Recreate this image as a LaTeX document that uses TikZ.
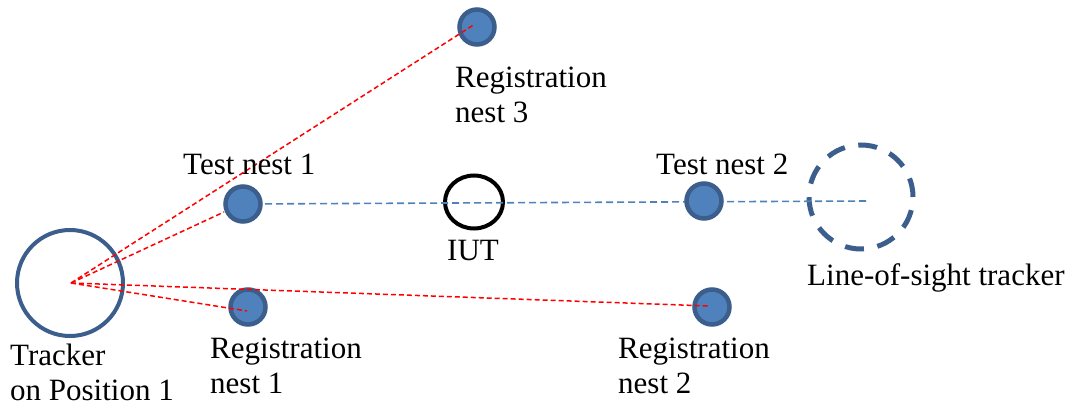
\documentclass[tikz,border=0pt]{standalone}
\usepackage{fontspec}
\setmainfont{Liberation Serif}
\usetikzlibrary{shapes.geometric}
\begin{document}
\begin{tikzpicture}[x=1pt,y=-1pt,
  nest/.style={circle,draw=nestedge,fill=nestfill,line width=4.5pt,minimum size=35pt,inner sep=0pt},
  label/.style={font=\fontsize{31}{35}\selectfont,align=left,anchor=base west,inner sep=0pt},
  sight/.style={red,line width=1.5pt,dash pattern=on 5pt off 3pt},
  axis/.style={nestfill,line width=1.6pt,dash pattern=on 7pt off 4pt}]
\definecolor{nestfill}{HTML}{4F81BD}
\definecolor{nestedge}{HTML}{3B5E8C}
\useasboundingbox (0,0) rectangle (1084,406);

% tracker on position 1
\node[circle,draw=nestedge,line width=4pt,minimum size=106pt,inner sep=0pt] (trk) at (70,283) {};
\coordinate (src) at (71,283);

% line-of-sight tracker (dashed outline)
\node[circle,draw=nestedge,line width=5pt,minimum size=104pt,inner sep=0pt,
      dash pattern=on 19pt off 13.7pt] (los) at (861,197) {};
\coordinate (axisend) at (868,201);

% item under test
\node[ellipse,draw=black,line width=4pt,minimum width=58pt,minimum height=53pt,inner sep=0pt] (iut) at (474,202) {};

% nests
\coordinate (tn1pos) at (243,204);
\draw[axis] (tn1pos) -- (axisend);
\draw[sight] (src) -- ([shift={(-19pt,-8pt)}]tn1pos);
\node[nest] (tn1) at (tn1pos) {};
\node[nest] (tn2) at (704,201) {};
\node[nest] (r1) at (248,307) {};
\node[nest] (r2) at (712,307) {};
\node[nest] (r3) at (477,27) {};

% lines of sight to the registration nests
\draw[sight] (src) -- ([shift={(-1pt,-4pt)}]r1.center);
\draw[sight] (src) -- ([shift={(-3pt,1pt)}]r2.center);
\draw[sight] (src) -- ([shift={(-2pt,3pt)}]r3.center);

% labels (multi-line labels are placed by the baseline of their last line)
\node[label] (ltn1) at (183,175) {Test nest 1};
\node[label] (ltn2) at (656,175) {Test nest 2};
\node[label] (liut) at (447,260) {IUT};
\node[label] (llos) at (807,285) {Line-of-sight tracker};
\node[label] (lr3) at (455,123) {Registration\\nest 3};
\node[label] (lr1) at (210,393) {Registration\\nest 1};
\node[label] (lr2) at (618,393) {Registration\\nest 2};
\node[label] (ltrk) at (10,400) {Tracker\\on Position 1};
\end{tikzpicture}
\end{document}
